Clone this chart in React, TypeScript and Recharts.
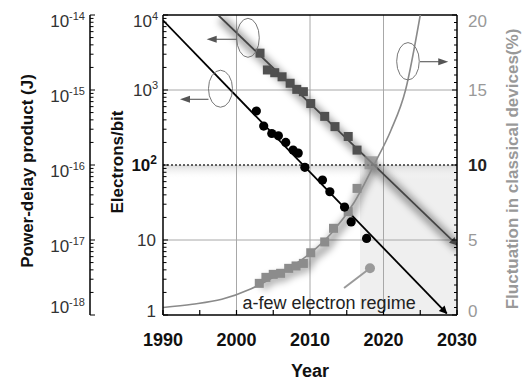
import React from 'react'
import {
  ComposedChart,
  Line,
  XAxis,
  YAxis,
  ReferenceLine,
  ReferenceArea,
  ReferenceDot,
  Label,
} from 'recharts'

// ---- data ----
const yearTicks = [1990, 1995, 2000, 2005, 2010, 2015, 2020, 2025, 2030]
const decadeSteps = [1, 2, 3, 4, 5, 6, 7, 8, 9]
const electronDecades = [1, 10, 100, 1000]
const electronTicks = electronDecades.flatMap((d) => decadeSteps.map((s) => s * d)).concat(10000)
const pdpDecades = [1e-18, 1e-17, 1e-16, 1e-15]
const pdpTicks = pdpDecades.flatMap((d) => decadeSteps.map((s) => s * d)).concat(1e-14)
const fluctTicks = Array.from({ length: 41 }, (_, i) => i / 2)

// black circles (electrons/bit)
const electronDots = [
  { year: 2002.7, v: 525 },
  { year: 2003.7, v: 330 },
  { year: 2004.8, v: 263 },
  { year: 2005.7, v: 245 },
  { year: 2006.7, v: 200 },
  { year: 2007.7, v: 158 },
  { year: 2008.4, v: 144 },
  { year: 2009.3, v: 93 },
  { year: 2011.7, v: 63 },
  { year: 2012.7, v: 44 },
  { year: 2014.7, v: 27.5 },
  { year: 2015.6, v: 17.4 },
  { year: 2017.7, v: 10.5 },
]
const electronTrend = [
  { year: 1990, v: 8500 },
  { year: 2028.6, v: 1.05 },
]

// dark squares (electrons/bit, second device family)
const darkSquares = [
  { year: 2003.2, v: 3100 },
  { year: 2004.2, v: 1850 },
  { year: 2005.2, v: 1700 },
  { year: 2006.2, v: 1500 },
  { year: 2007.3, v: 1230 },
  { year: 2008.2, v: 1020 },
  { year: 2009.1, v: 950 },
  { year: 2010.1, v: 660 },
  { year: 2012, v: 445 },
  { year: 2013.4, v: 325 },
  { year: 2015.2, v: 240 },
  { year: 2016.4, v: 158 },
]
const darkTrend = [
  { year: 1997.5, v: 10000 },
  { year: 2030, v: 8.6 },
]

// light squares (fluctuation %)
const lightSquares = [
  { year: 2003.1, v: 2.11 },
  { year: 2004, v: 2.51 },
  { year: 2005, v: 2.71 },
  { year: 2006, v: 2.78 },
  { year: 2007.1, v: 3.11 },
  { year: 2008.1, v: 3.27 },
  { year: 2009.1, v: 3.44 },
  { year: 2010.1, v: 4.15 },
  { year: 2012, v: 4.87 },
  { year: 2013.2, v: 5.78 },
  { year: 2015.2, v: 6.89 },
  { year: 2016.4, v: 8.44 },
  { year: 2018.3, v: 10.15 },
]
const fluctCurve = [
  { year: 1990, v: 0.5 },
  { year: 1994, v: 0.72 },
  { year: 1998, v: 1.05 },
  { year: 2002, v: 1.75 },
  { year: 2006, v: 2.8 },
  { year: 2010, v: 4.1 },
  { year: 2013, v: 5.5 },
  { year: 2016, v: 7.5 },
  { year: 2018.8, v: 10.1 },
  { year: 2021, v: 12.3 },
  { year: 2023, v: 15 },
  { year: 2025, v: 20 },
]

const FONT = '"Liberation Sans", Arial, Helvetica, sans-serif'

function isDecade(v: number) {
  const e = Math.log10(v)
  return Math.abs(e - Math.round(e)) < 1e-6
}

function YearTick(props: any) {
  const { x, y, payload } = props
  const yr = payload.value
  return (
    <g>
      <line x1={x} x2={x} y1={y} y2={y - 5} stroke="#000" strokeWidth={1.2} />
      {yr % 10 === 0 && (
        <text x={x} y={y + 31} textAnchor="middle" fontSize={18} fontWeight="bold" fill="#111">
          {yr}
        </text>
      )}
    </g>
  )
}

function ElectronTick(props: any) {
  const { x, y, payload } = props
  const v = payload.value
  const ax = x + 5
  const major = isDecade(v)
  const n = Math.round(Math.log10(v))
  const shift = n === 4 ? 6 : n === 0 ? -4 : 0
  const base = y + shift + 6
  let label: React.ReactNode = null
  if (major) {
    if (n === 0) label = <text x={x - 2} y={base} textAnchor="end" fontSize={17} fill="#333">1</text>
    else if (n === 1) label = <text x={x - 2} y={base} textAnchor="end" fontSize={17} fill="#333">10</text>
    else if (n === 2)
      label = (
        <text x={x - 1} y={base} textAnchor="end" fontSize={17} fontWeight="bold" fill="#111">
          10<tspan fontSize={12} dy={-7}>2</tspan>
        </text>
      )
    else
      label = (
        <text x={x} y={base} textAnchor="end" fontSize={17} fill="#333">
          10<tspan fontSize={11} dy={-7}>{n}</tspan>
        </text>
      )
  }
  return (
    <g>
      <line x1={ax} x2={ax + (major ? 5 : 3.5)} y1={y} y2={y} stroke="#000" strokeWidth={1} />
      {label}
    </g>
  )
}

function PdpTick(props: any) {
  const { x, y, payload } = props
  const v = payload.value
  const ax = x + 5
  const major = isDecade(v)
  const n = Math.round(Math.log10(v))
  const shift = n === -14 ? 6 : n === -18 ? -8 : 6
  return (
    <g>
      <line x1={ax} x2={ax + (major ? 5 : 3.5)} y1={y} y2={y} stroke="#000" strokeWidth={1} />
      {major && (
        <text x={x} y={y + shift + 6} textAnchor="end" fontSize={17} fill="#333">
          10<tspan fontSize={11} dy={-7}>{n}</tspan>
        </text>
      )}
    </g>
  )
}

function FluctTick(props: any) {
  const { x, y, payload } = props
  const v = payload.value
  const ax = x - 11
  const major = v % 5 === 0
  const shift = v === 20 ? 6 : v === 0 ? -4 : 0
  return (
    <g>
      <line x1={ax} x2={ax - (major ? 5 : 3)} y1={y} y2={y} stroke="#000" strokeWidth={1} />
      {major && (
        <text
          x={x}
          y={y + shift + 6}
          textAnchor="start"
          fontSize={17}
          fontWeight={v === 10 ? 'bold' : 'normal'}
          fill={v === 10 ? '#222' : '#999'}
        >
          {v}
        </text>
      )}
    </g>
  )
}

const sideTitle = (text: string, dx: number, dy: number, color: string) => (props: any) => {
  const vb = props.viewBox || { x: 0, y: 0, width: 0, height: 0 }
  const cx = vb.x + dx
  const cy = vb.y + vb.height / 2 + dy
  return (
    <text
      x={cx}
      y={cy}
      transform={`rotate(-90 ${cx} ${cy})`}
      textAnchor="middle"
      dominantBaseline="central"
      fontSize={17}
      fontWeight="bold"
      fill={color}
    >
      {text}
    </text>
  )
}

const yearTitle = (props: any) => {
  const vb = props.viewBox || { x: 0, y: 0, width: 0, height: 0 }
  return (
    <text x={vb.x + vb.width / 2} y={vb.y + 62} textAnchor="middle" fontSize={18} fontWeight="bold" fill="#111">
      Year
    </text>
  )
}

const squareDot = (size: number, fill: string) => (p: any) => {
  if (p.cx == null || p.cy == null) return <g key={p.index} />
  const s = p.payload && p.payload.v >= 10 && fill === '#8c8c8c' ? 13 : size
  return (
    <rect
      key={p.index}
      x={p.cx - s / 2}
      y={p.cy - s / 2}
      width={s}
      height={s}
      fill={fill}
      fillOpacity={s > size ? 0.75 : 1}
    />
  )
}

const circleDot = (p: any) => {
  if (p.cx == null || p.cy == null) return <g key={p.index} />
  return <circle key={p.index} cx={p.cx} cy={p.cy} r={4.6} fill="#000" />
}

// loop + arrow annotation, drawn around a point of the chart
const loopArrow = (rx: number, ry: number, y0: number, from: number, to: number) => (p: any) => {
  const { cx, cy } = p
  const dir = to < from ? -1 : 1
  const tip = cx + to
  return (
    <g>
      <ellipse cx={cx} cy={cy} rx={rx} ry={ry} fill="none" stroke="#777" strokeWidth={1} />
      <line x1={cx + from} x2={tip - dir * 8} y1={cy + y0} y2={cy + y0} stroke="#666" strokeWidth={1.2} />
      <path
        d={`M${tip},${cy + y0} L${tip - dir * 10},${cy + y0 - 3.5} L${tip - dir * 10},${cy + y0 + 3.5} Z`}
        fill="#555"
      />
    </g>
  )
}

const regimeText = (p: any) => (
  <text x={p.cx} y={p.cy} textAnchor="middle" dominantBaseline="central" fontSize={18} fill="#222">
    a-few electron regime
  </text>
)

const pointerDot = (p: any) => <circle cx={p.cx} cy={p.cy} r={5} fill="#9a9a9a" />

export default function App() {
  return (
    <div style={{ position: 'absolute', left: 0, top: 0, fontFamily: FONT, background: '#fff' }}>
      <ComposedChart width={526} height={385} margin={{ top: 15, right: 0, bottom: 0, left: 0 }}>
        <defs>
          <linearGradient id="band" x1="0" y1="0" x2="0" y2="1">
            <stop offset="0%" stopColor="#d6d6d6" stopOpacity={0.9} />
            <stop offset="100%" stopColor="#ffffff" stopOpacity={0} />
          </linearGradient>
          <filter id="shadow" x="-30%" y="-30%" width="160%" height="160%">
            <feOffset dx="3" dy="4" />
            <feGaussianBlur stdDeviation="3.5" />
          </filter>
          <marker
            id="arrowBlack"
            viewBox="0 0 10 10"
            refX="9"
            refY="5"
            markerWidth="12"
            markerHeight="8"
            markerUnits="userSpaceOnUse"
            orient="auto"
          >
            <path d="M0,0 L10,5 L0,10 z" fill="#000" />
          </marker>
          <marker
            id="arrowDark"
            viewBox="0 0 10 10"
            refX="9"
            refY="5"
            markerWidth="12"
            markerHeight="8"
            markerUnits="userSpaceOnUse"
            orient="auto"
          >
            <path d="M0,0 L10,5 L0,10 z" fill="#444" />
          </marker>
        </defs>

        <XAxis
          dataKey="year"
          type="number"
          domain={[1990, 2030]}
          ticks={yearTicks}
          interval={0}
          allowDataOverflow
          height={70}
          tickSize={0}
          tickMargin={0}
          tickLine={false}
          tick={<YearTick />}
          axisLine={{ stroke: '#000', strokeWidth: 1.5 }}
        >
          <Label content={yearTitle} />
        </XAxis>
        <YAxis
          yAxisId="e"
          orientation="left"
          type="number"
          scale="log"
          domain={[1, 10000]}
          allowDataOverflow
          ticks={electronTicks}
          interval={0}
          width={73}
          tickSize={0}
          tickMargin={5}
          tickLine={false}
          tick={<ElectronTick />}
          axisLine={{ stroke: '#000', strokeWidth: 1.5 }}
        >
          <Label content={sideTitle('Electrons/bit', 27, -3, '#111')} />
        </YAxis>
        <YAxis
          yAxisId="pdp"
          orientation="left"
          type="number"
          scale="log"
          domain={[1e-18, 1e-14]}
          allowDataOverflow
          ticks={pdpTicks}
          interval={0}
          width={90}
          tickSize={0}
          tickMargin={5}
          tickLine={false}
          tick={<PdpTick />}
          axisLine={{ stroke: '#000', strokeWidth: 1.5 }}
        >
          <Label content={sideTitle('Power-delay product (J)', 27, 6, '#111')} />
        </YAxis>
        <YAxis
          yAxisId="f"
          orientation="right"
          type="number"
          domain={[0, 20]}
          allowDataOverflow
          ticks={fluctTicks}
          interval={0}
          width={69}
          tickSize={0}
          tickMargin={11}
          tickLine={false}
          tick={<FluctTick />}
          axisLine={{ stroke: '#000', strokeWidth: 1.5 }}
        >
          <Label content={sideTitle('Fluctuation in classical devices(%)', 55, 4, '#999')} />
        </YAxis>

        {/* shaded regions */}
        <ReferenceArea yAxisId="e" x1={2016.8} x2={2030} y1={1} y2={100} fill="#efefef" fillOpacity={1} stroke="none" />
        <ReferenceArea yAxisId="e" x1={1990} x2={2030} y1={65} y2={100} fill="url(#band)" fillOpacity={1} stroke="none" />

        {/* grid */}
        {[2000, 2010, 2020].map((yr) => (
          <ReferenceLine key={yr} yAxisId="e" x={yr} stroke="#a8a8a8" strokeWidth={1} />
        ))}
        {[10, 1000].map((v) => (
          <ReferenceLine key={v} yAxisId="e" y={v} stroke="#a8a8a8" strokeWidth={1} />
        ))}
        <ReferenceLine yAxisId="e" y={100} stroke="#333" strokeWidth={1.6} strokeDasharray="2 2" />
        <ReferenceLine yAxisId="e" y={10000} stroke="#000" strokeWidth={1.5} />

        {/* shadows */}
        <Line
          yAxisId="e"
          data={darkTrend}
          dataKey="v"
          stroke="#000"
          strokeOpacity={0.35}
          strokeWidth={9}
          dot={false}
          activeDot={false}
          filter="url(#shadow)"
          isAnimationActive={false}
        />
        <Line
          yAxisId="f"
          data={lightSquares}
          dataKey="v"
          stroke="#000"
          strokeOpacity={0.3}
          strokeWidth={9}
          dot={false}
          activeDot={false}
          filter="url(#shadow)"
          isAnimationActive={false}
        />

        {/* fluctuation curve and points */}
        <Line
          yAxisId="f"
          data={fluctCurve}
          dataKey="v"
          type="monotone"
          stroke="#8a8a8a"
          strokeWidth={1.6}
          dot={false}
          activeDot={false}
          isAnimationActive={false}
        />
        <Line
          yAxisId="f"
          data={lightSquares}
          dataKey="v"
          stroke="none"
          dot={squareDot(9, '#8c8c8c')}
          activeDot={false}
          isAnimationActive={false}
        />

        {/* dark squares and trend */}
        <Line
          yAxisId="e"
          data={darkTrend}
          dataKey="v"
          stroke="#444"
          strokeWidth={1.8}
          dot={false}
          activeDot={false}
          markerEnd="url(#arrowDark)"
          isAnimationActive={false}
        />
        <Line
          yAxisId="e"
          data={darkSquares}
          dataKey="v"
          stroke="none"
          dot={squareDot(9, '#505050')}
          activeDot={false}
          isAnimationActive={false}
        />

        {/* black circles and trend */}
        <Line
          yAxisId="e"
          data={electronTrend}
          dataKey="v"
          stroke="#000"
          strokeWidth={1.8}
          dot={false}
          activeDot={false}
          markerEnd="url(#arrowBlack)"
          isAnimationActive={false}
        />
        <Line
          yAxisId="e"
          data={electronDots}
          dataKey="v"
          stroke="none"
          dot={circleDot}
          activeDot={false}
          isAnimationActive={false}
        />

        {/* annotations */}
        <ReferenceDot yAxisId="e" x={1997.82} y={1040} r={0} shape={loopArrow(12, 18.5, 10.6, -12, -40.5)} />
        <ReferenceDot yAxisId="e" x={2001.56} y={4966} r={0} shape={loopArrow(11.3, 19.5, 1.5, -11.3, -41.3)} />
        <ReferenceDot yAxisId="e" x={2023.33} y={2415} r={0} shape={loopArrow(11.3, 18.7, 0.4, 12, 40.3)} />
        <ReferenceLine
          yAxisId="e"
          segment={[
            { x: 2014.63, y: 2.29 },
            { x: 2018.16, y: 4.2 },
          ]}
          stroke="#9a9a9a"
          strokeWidth={2}
        />
        <ReferenceDot yAxisId="e" x={2018.16} y={4.2} r={5} shape={pointerDot} />
        <ReferenceDot yAxisId="e" x={2012.6} y={1.46} r={0} shape={regimeText} />
      </ComposedChart>
    </div>
  )
}
